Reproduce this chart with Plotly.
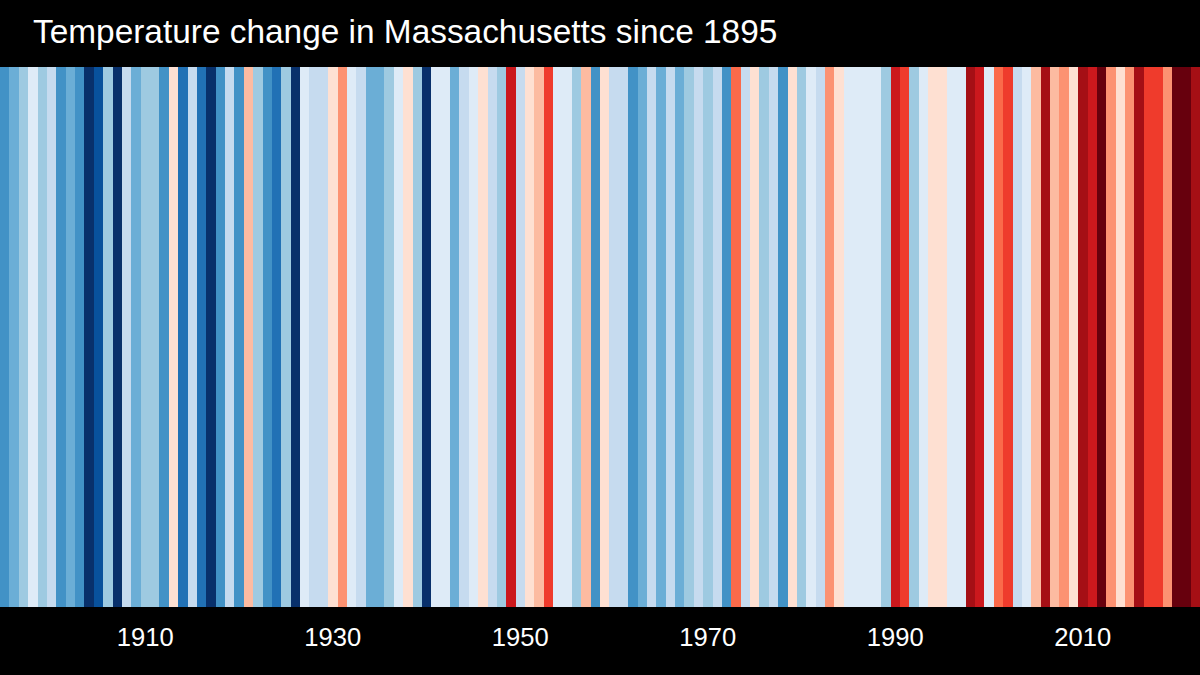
import plotly.graph_objs as go

years = list(range(1895, 2023))
# colour class of each year, 0 = coldest blue, 15 = darkest red
stripe_class = [
    3, 4, 5, 7, 5, 6, 3, 4, 3, 0, 1, 5, 0, 6, 4, 5, 5, 3, 8, 2, 6, 2, 0, 3, 6, 3, 9, 5, 3, 2, 5, 0,
    7, 6, 6, 8, 10, 7, 6, 4, 4, 5, 7, 8, 5, 0, 7, 7, 4, 6, 7, 8, 6, 5, 13, 6, 8, 9, 12, 7, 7, 5, 9, 3,
    8, 6, 6, 3, 4, 6, 4, 6, 4, 5, 6, 5, 6, 3, 11, 6, 8, 5, 6, 3, 8, 5, 7, 6, 10, 8, 7, 7, 7, 7, 5, 13,
    12, 5, 7, 8, 8, 7, 7, 14, 13, 7, 11, 12, 6, 7, 9, 14, 9, 10, 8, 14, 13, 15, 10, 8, 10, 14, 12, 12, 10, 15, 15, 14,
]
palette = [
    '#08306b', '#08519c', '#2171b5', '#4292c6', '#6baed6', '#9ecae1', '#c6dbef', '#deebf7',
    '#fee0d2', '#fcbba1', '#fc9272', '#fb6a4a', '#ef3b2c', '#cb181d', '#a50f15', '#67000d',
]
tick_years = [1910, 1930, 1950, 1970, 1990, 2010]

# stepped colorscale so each class keeps one flat colour
colorscale = []
for i, c in enumerate(palette):
    colorscale.append([i / len(palette), c])
    colorscale.append([(i + 1) / len(palette), c])

fig = go.Figure(go.Heatmap(
    x=years,
    z=[stripe_class],
    zmin=-0.5,
    zmax=15.5,
    colorscale=colorscale,
    showscale=False,
    hoverinfo='x',
))

fig.update_layout(
    width=1200,
    height=675,
    paper_bgcolor='black',
    plot_bgcolor='black',
    margin=dict(l=0, r=0, t=67, b=68),
    font=dict(family='Liberation Sans', color='white'),
    title=dict(
        text='Temperature change in Massachusetts since 1895',
        font=dict(size=33.4, color='white'),
        x=33 / 1200,
        xanchor='left',
        y=0.953,
        yanchor='middle',
    ),
)
fig.update_xaxes(
    range=[1894.5, 2022.5],
    tickvals=tick_years,
    ticktext=[str(y) for y in tick_years],
    tickfont=dict(size=25.6, color='white'),
    ticks='outside',
    ticklen=7,
    tickcolor='black',
    showgrid=False,
    zeroline=False,
    showline=False,
)
fig.update_yaxes(visible=False, range=[-0.5, 0.5])

# page body has a default margin, drop it so the figure fills the window
fig.write_html(
    'out.html',
    config=dict(displayModeBar=False),
    post_script="document.body.style.margin='0';document.body.style.background='black';",
)
